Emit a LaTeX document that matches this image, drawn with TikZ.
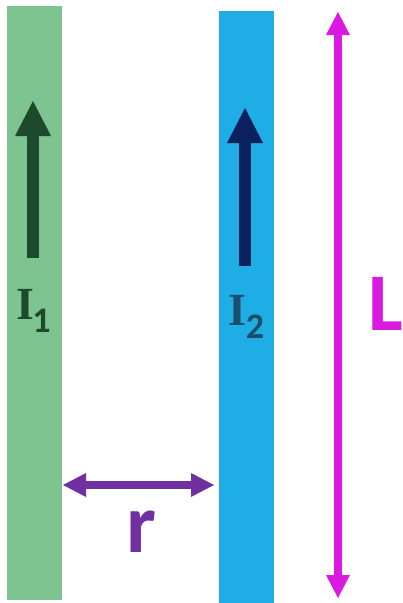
\documentclass[tikz,border=0pt]{standalone}
\usepackage{fontspec}
\setmainfont{Carlito}
\newfontfamily\slabfont{Liberation Serif}
\usetikzlibrary{arrows.meta}
\definecolor{wireg}{RGB}{125,196,145}
\definecolor{wireb}{RGB}{30,174,229}
\definecolor{arrg}{RGB}{29,74,44}
\definecolor{arrb}{RGB}{10,33,94}
\definecolor{labb}{RGB}{27,78,109}
\definecolor{rpurple}{RGB}{112,48,160}
\definecolor{lmag}{RGB}{218,26,224}
\tikzset{
  wire/.style={draw=none, rectangle, inner sep=0pt, minimum width=55pt},
  curarrow/.style={line width=12pt, -{Triangle[length=35pt,width=36pt,line width=0pt]}},
  dimarrow/.style={line width=8pt, {Triangle[length=23pt,width=24pt,line width=0pt]}-{Triangle[length=23pt,width=24pt,line width=0pt]}},
  bigI/.style={inner sep=0pt, anchor=base, font=\slabfont\bfseries\fontsize{46}{50}\selectfont},
  subs/.style={inner sep=0pt, anchor=base, font=\bfseries\fontsize{36}{38}\selectfont},
  biglab/.style={inner sep=0pt, anchor=base, font=\bfseries\fontsize{84}{88}\selectfont}
}
\begin{document}
\begin{tikzpicture}[x=1pt,y=-1pt]
\useasboundingbox (0,0) rectangle (403,603);
% wires
\node[wire, fill=wireg, minimum height=594pt] (w1) at (34.5,303) {};
\node[wire, fill=wireb, minimum height=592pt] (w2) at (246.5,307) {};
% current arrows
\coordinate (a1s) at (33,258);
\coordinate (a1e) at (33,101);
\draw[curarrow, arrg] (a1s) -- (a1e);
\coordinate (a2s) at (245,266);
\coordinate (a2e) at (245,108);
\draw[curarrow, arrb] (a2s) -- (a2e);
% labels I1, I2
\node[bigI, text=arrg] (i1) at (25.5,319) {I};
\node[subs, text=arrg] (s1) at (41.5,332) {1};
\node[bigI, text=labb] (i2) at (237,325) {I};
\node[subs, text=labb] (s2) at (255,338) {2};
% distance r
\coordinate (rl) at (63,485);
\coordinate (rr) at (214,485);
\draw[dimarrow, rpurple] (rl) -- (rr);
\node[biglab, text=rpurple] (rlab) at (141,552) {r};
% length L
\coordinate (lt) at (338,12);
\coordinate (lb) at (338,598);
\draw[dimarrow, lmag] (lt) -- (lb);
\node[biglab, text=lmag, font=\bfseries\fontsize{82}{86}\selectfont] (llab) at (386,330) {L};
\end{tikzpicture}
\end{document}
